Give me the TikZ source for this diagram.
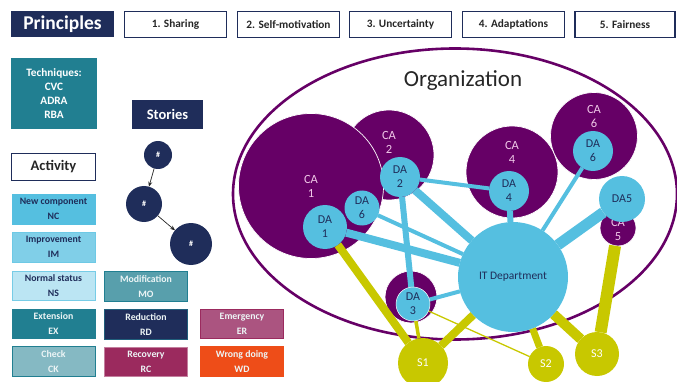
\documentclass[tikz,border=0pt]{standalone}
\usepackage{fontspec}
\setmainfont{Carlito}
\usetikzlibrary{arrows.meta,shapes.geometric}
\definecolor{navy}{HTML}{1F2D5A}
\definecolor{tealb}{HTML}{217F91}
\definecolor{purp}{HTML}{660066}
\definecolor{sky}{HTML}{55BFE0}
\definecolor{olive}{HTML}{C8C800}
\definecolor{pinkt}{HTML}{F0C8E8}
\definecolor{HTMLER}{HTML}{AB5480}
\definecolor{HTMLRC}{HTML}{9B2A5E}
\definecolor{HTMLWD}{HTML}{EE4D18}
\pgfdeclarelayer{ell}
\pgfdeclarelayer{ca}
\pgfdeclarelayer{lnk}
\pgfsetlayers{ell,ca,lnk,main}
\tikzset{
  every node/.style={inner sep=0pt,outer sep=0pt},
  bx/.style={rectangle,anchor=north west,align=center},
  head/.style={bx,fill=navy,text=white,font=\bfseries},
  frm/.style={bx,draw=navy,line width=1.4pt,fill=white,text=black!85,font=\bfseries\fontsize{11.3}{13}\selectfont},
  leg/.style={bx,minimum width=83pt,minimum height=29.5pt,line width=0.8pt,font=\bfseries\fontsize{9.8}{15}\selectfont},
  story/.style={circle,fill=navy,text=white,font=\bfseries\fontsize{8}{9}\selectfont},
  cag/.style={circle,fill=purp,draw=white,line width=0.7pt},
  catxt/.style={text=pinkt,align=center,font=\fontsize{12.5}{14}\selectfont},
  dag/.style={circle,fill=sky,text=navy,align=center,font=\fontsize{12}{14}\selectfont},
  sg/.style={circle,fill=olive,text=white,font=\fontsize{12}{14}\selectfont},
  bl/.style={draw=sky,line width=#1},
  yl/.style={draw=olive,line width=#1},
}
\begin{document}
\begin{tikzpicture}[x=1pt,y=-1pt]
\useasboundingbox (0,0) rectangle (677,382);
% header
\node[head,minimum width=103pt,minimum height=26pt,font=\bfseries\fontsize{19.5}{22}\selectfont] (pr) at (11,11) {Principles};
\node[frm,minimum width=102pt,minimum height=26pt] (p1) at (124.5,11.5) {1. Sharing};
\node[frm,minimum width=102pt,minimum height=26pt] (p2) at (237.5,11.5) {2. Self-motivation};
\node[frm,minimum width=102pt,minimum height=26pt] (p3) at (349.5,11.5) {3. Uncertainty};
\node[frm,minimum width=102pt,minimum height=26pt] (p4) at (462.5,11.5) {4. Adaptations};
\node[frm,minimum width=100pt,minimum height=26pt] (p5) at (575,11.5) {5. Fairness};
% left
\node[bx,fill=tealb,text=white,minimum width=86pt,minimum height=71pt,font=\bfseries\fontsize{11.3}{14}\selectfont] (tech) at (11,58) {Techniques:\\CVC\\ADRA\\RBA};
\node[head,minimum width=71pt,minimum height=29pt,font=\bfseries\fontsize{14.5}{16}\selectfont] (st) at (132,100) {Stories};
\node[frm,minimum width=84pt,minimum height=27pt,font=\bfseries\fontsize{14.5}{16}\selectfont] (ac) at (11.5,153.5) {Activity};
% stories
\node[story,minimum size=28pt] (s1) at (158,155) {\#};
\node[story,minimum size=36pt] (s2) at (144,204) {\#};
\node[story,minimum size=42pt] (s3) at (191,244) {\#};
\draw[-{Stealth[length=5pt,width=4pt]},line width=0.7pt,black!85] (s1) -- (s2);
\draw[-{Stealth[length=5pt,width=4pt]},line width=0.7pt,black!85] (s2) -- (s3);
% legend
\node[leg,fill=sky,draw=sky,text=navy] (nc) at (12,194.5) {New component\\NC};
\node[leg,fill=sky!75,draw=sky!85,text=navy] (im) at (12,232.5) {Improvement\\IM};
\node[leg,fill=sky!40,draw=sky!80,text=navy] (ns) at (12,271) {Normal status\\NS};
\node[leg,fill=tealb!75,draw=tealb,text=white!92!tealb] (mo) at (104.5,271.5) {Modification\\MO};
\node[leg,fill=tealb,draw=tealb,text=white!92!tealb] (ex) at (12,309) {Extension\\EX};
\node[leg,fill=navy,draw=tealb!60!navy,text=white!92!tealb] (rd) at (104.5,309.5) {Reduction\\RD};
\node[leg,fill=HTMLER,draw=HTMLRC,text=white!92!tealb] (er) at (200.5,309) {Emergency\\ER};
\node[leg,fill=tealb!55,draw=tealb,text=white!92!tealb] (ck) at (12,346.5) {Check\\CK};
\node[leg,fill=HTMLRC,draw=HTMLRC!60,text=white!92!tealb] (rc) at (104.5,347) {Recovery\\RC};
\node[leg,fill=HTMLWD,draw=HTMLWD,text=white!92!tealb] (wd) at (200.5,346.5) {Wrong doing\\WD};
% organisation
\begin{pgfonlayer}{ell}
\node[ellipse,draw=purp,line width=2.6pt,minimum width=444pt,minimum height=291pt] (org) at (455,194) {};
\end{pgfonlayer}
\node[font=\fontsize{23}{26}\selectfont,text=black!85] (orgt) at (463,81) {Organization};
\begin{pgfonlayer}{ca}
\node[cag,minimum size=90pt] (ca2) at (389,155) {};
\node[cag,minimum size=145pt] (ca1) at (311,186) {};
\node[cag,minimum size=92pt] (ca4) at (512,172) {};
\node[cag,minimum size=87pt] (ca6) at (594,136) {};
\node[cag,minimum size=36pt] (ca5) at (618,228) {};
\node[cag,minimum size=52pt] (ca3) at (411,297) {};
\end{pgfonlayer}
\node[catxt] (ca1t) at (311,186) {CA\\1};
\node[catxt] (ca2t) at (389,142) {CA\\2};
\node[catxt] (ca4t) at (512,152) {CA\\4};
\node[catxt] (ca6t) at (594,116) {CA\\6};
\node[dag,minimum size=44pt] (da1) at (325,227) {DA\\1};
\node[dag,minimum size=40pt] (da2) at (400,177) {DA\\2};
\node[dag,minimum size=35pt] (da6l) at (362,208) {DA\\6};
\node[dag,minimum size=40pt] (da4) at (509,191) {DA\\4};
\node[dag,minimum size=40pt] (da6) at (593,151) {DA\\6};
\node[catxt] (ca5t) at (618,229) {CA\\5};
\node[dag,minimum size=46pt] (da5) at (622,199) {DA5};
\node[dag,minimum size=34pt,draw=white,line width=0.5pt] (da3) at (413,304) {DA\\3};
\node[dag,minimum size=110pt,font=\fontsize{11.5}{14}\selectfont] (it) at (513,277) {IT Department};
\node[sg,minimum size=50pt] (s1c) at (423,363) {S1};
\node[sg,minimum size=36pt] (s2c) at (546,364) {S2};
\node[sg,minimum size=44pt] (s3c) at (597,354) {S3};
\begin{pgfonlayer}{lnk}
\draw[bl=8pt] (da1) -- (it);
\draw[bl=4pt] (da6l) -- (it);
\draw[bl=8pt] (da2) -- (it);
\draw[bl=4pt] (da2) -- (da4);
\draw[bl=6pt] (da2) -- (da3);
\draw[bl=6pt] (da4) -- (it);
\draw[bl=4pt] (da6) -- (it);
\draw[bl=11pt] (da5) -- (it);
\draw[bl=4pt] (da3) -- (it);
\draw[yl=8pt] (da1) -- (s1c);
\draw[yl=3.5pt] (da3) -- (s1c);
\draw[yl=8pt] (it) -- (s1c);
\draw[yl=7pt] (it) -- (s2c);
\draw[yl=1.3pt] (da3) -- (s2c);
\draw[yl=10pt] (it) -- (s3c);
\draw[yl=12pt] (ca5) -- (s3c);
\end{pgfonlayer}
\end{tikzpicture}
\end{document}
